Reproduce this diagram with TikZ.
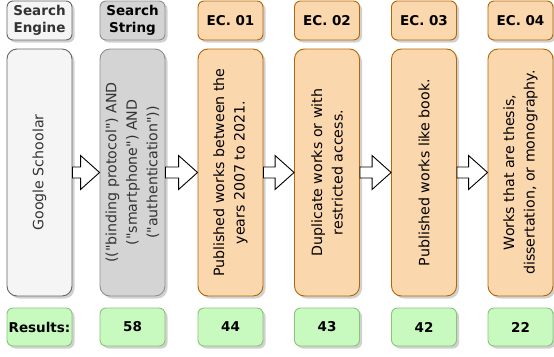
\documentclass[tikz,border=0pt]{standalone}
\usepackage{fontspec}
\setmainfont{DejaVu Sans}[Ligatures=TeXOff]
\usetikzlibrary{calc,shadows}

\definecolor{engfill}{HTML}{F5F5F5}
\definecolor{engdraw}{HTML}{666666}
\definecolor{engtext}{HTML}{333333}
\definecolor{strfill}{HTML}{D4D4D4}
\definecolor{strdraw}{HTML}{8F8F8F}
\definecolor{ecfill}{HTML}{FAD7AC}
\definecolor{ecdraw}{HTML}{B46504}
\definecolor{resfill}{HTML}{C8FAC0}
\definecolor{resdraw}{HTML}{88C47A}

\tikzset{
  box/.style={draw, line width=0.9pt, minimum width=65pt, inner sep=0pt,
    drop shadow={shadow xshift=2.5pt, shadow yshift=-2.5pt, opacity=0.3, fill=black!60}},
  headbox/.style={box, rounded corners=6pt, minimum height=39pt, align=center,
    font=\fontsize{13.5}{17.5}\selectfont\bfseries},
  tallbox/.style={box, rounded corners=10pt, minimum height=247pt},
  resbox/.style={box, rounded corners=6pt, minimum height=38pt, fill=resfill, draw=resdraw,
    font=\fontsize{13.5}{17.5}\selectfont\bfseries},
  engine/.style={fill=engfill, draw=engdraw, text=engtext},
  sstring/.style={fill=strfill, draw=strdraw},
  ecrit/.style={fill=ecfill, draw=ecdraw},
  vtext/.style={rotate=90, align=center, inner sep=0pt,
    font=\fontsize{14.2}{20.5}\selectfont},
  blockarr/.style={draw=black, fill=white, line width=0.9pt, line join=miter}
}

% block arrow spanning the gap between two columns
\newcommand{\gaparrow}[2]{%
  \draw[blockarr] ($(#1.east)+(0,-5.5)$) -- ($(#2.west)+(-19,-5.5)$) -- ($(#2.west)+(-19,-17)$)
    -- (#2.west) -- ($(#2.west)+(-19,17)$) -- ($(#2.west)+(-19,5.5)$)
    -- ($(#1.east)+(0,5.5)$) -- cycle;}

\begin{document}
\begin{tikzpicture}[x=1pt, y=-1pt]
\useasboundingbox (0,0) rectangle (554,356);

% column 1: search engine
\node[headbox, engine] (h1) at (39.5,20.5) {Search\\Engine};
\node[tallbox, engine] (b1) at (39.5,172.5) {};
\node[vtext, text=engtext] (t1) at (b1.center) {Google Schoolar};
\node[resbox] (r1) at (39.5,327) {Results:};

% column 2: search string
\node[headbox, sstring] (h2) at (132.5,20.5) {Search\\String};
\node[tallbox, sstring] (b2) at (132.5,172.5) {};
\node[vtext, text=engtext] (t2) at (b2.center)
  {(("binding protocol") AND\\("smartphone") AND\\("authentication"))};
\node[resbox] (r2) at (132.5,327) {58};

% exclusion criteria
\node[headbox, ecrit] (h3) at (230.5,20.5) {EC. 01};
\node[tallbox, ecrit] (b3) at (230.5,172.5) {};
\node[vtext] (t3) at (b3.center) {Published works between the\\years 2007 to 2021.};
\node[resbox] (r3) at (230.5,327) {44};

\node[headbox, ecrit] (h4) at (327,20.5) {EC. 02};
\node[tallbox, ecrit] (b4) at (327,172.5) {};
\node[vtext] (t4) at (b4.center) {Duplicate works or with\\restricted access.};
\node[resbox] (r4) at (327,327) {43};

\node[headbox, ecrit] (h5) at (424,20.5) {EC. 03};
\node[tallbox, ecrit] (b5) at (424,172.5) {};
\node[vtext] (t5) at (b5.center) {Published works like book.};
\node[resbox] (r5) at (424,327) {42};

\node[headbox, ecrit] (h6) at (520.5,20.5) {EC. 04};
\node[tallbox, ecrit] (b6) at (520.5,172.5) {};
\node[vtext] (t6) at (b6.center) {Works that are thesis,\\dissertation, or monography.};
\node[resbox] (r6) at (520.5,327) {22};

% flow arrows
\gaparrow{b1}{b2}
\gaparrow{b2}{b3}
\gaparrow{b3}{b4}
\gaparrow{b4}{b5}
\gaparrow{b5}{b6}
\end{tikzpicture}
\end{document}
